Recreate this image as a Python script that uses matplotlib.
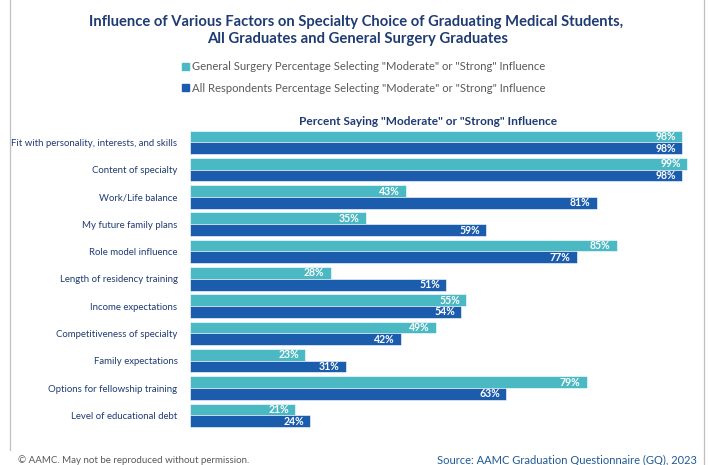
import matplotlib
matplotlib.use("Agg")
import matplotlib.pyplot as plt
from matplotlib.lines import Line2D
import numpy as np

plt.rcParams['font.family'] = ['Lato', 'DejaVu Sans']

categories = [
    "Fit with personality, interests, and skills",
    "Content of specialty",
    "Work/Life balance",
    "My future family plans",
    "Role model influence",
    "Length of residency training",
    "Income expectations",
    "Competitiveness of specialty",
    "Family expectations",
    "Options for fellowship training",
    "Level of educational debt",
]
general_surgery = [98, 99, 43, 35, 85, 28, 55, 49, 23, 79, 21]
all_respondents = [98, 98, 81, 59, 77, 51, 54, 42, 31, 63, 24]

series_names = [
    'General Surgery Percentage Selecting "Moderate" or "Strong" Influence',
    'All Respondents Percentage Selecting "Moderate" or "Strong" Influence',
]
title_lines = [
    "Influence of Various Factors on Specialty Choice of Graduating Medical Students,",
    "All Graduates and General Surgery Graduates",
]
axis_title = 'Percent Saying "Moderate" or "Strong" Influence'
footer_left = "\u00a9 AAMC. May not be reproduced without permission."
footer_right = "Source: AAMC Graduation Questionnaire (GQ), 2023"

TEAL = "#4BB9C4"
BLUE = "#1B5DAC"
NAVY = "#1F3B73"
GRAY = "#595959"

W, H = 709, 465
fig = plt.figure(figsize=(W / 100, H / 100), dpi=100)

def fx(px):
    return px / W

def fy(py):
    return 1 - py / H

ax_left, ax_right = 190, 692
ax_top, ax_bottom = 128.6, 429.0
ax = fig.add_axes([fx(ax_left), fy(ax_bottom), fx(ax_right) - fx(ax_left), (ax_bottom - ax_top) / H])

y = np.arange(len(categories))
h = 0.43
b1 = ax.barh(y - h / 2, general_surgery, height=h, color=TEAL, edgecolor="white", linewidth=0.4)
b2 = ax.barh(y + h / 2, all_respondents, height=h, color=BLUE, edgecolor="white", linewidth=0.4)

for bars, vals in ((b1, general_surgery), (b2, all_respondents)):
    for bar, v in zip(bars, vals):
        ax.text(bar.get_width() - 1.2, bar.get_y() + bar.get_height() / 2, f"{v}%",
                ha="right", va="center", color="white", fontsize=7.6, fontweight="bold")

ax.set_xlim(0, 100)
ax.set_ylim(len(categories) - 0.5, -0.5)
ax.set_yticks(y)
ax.set_yticklabels(categories, fontsize=6.9, color=NAVY)
ax.tick_params(axis="y", length=0, pad=9)
ax.set_xticks([])
for s in ax.spines.values():
    s.set_visible(False)

# Titles
fig.text(fx(356), fy(22), title_lines[0], ha="center", va="center", fontsize=10.6,
         fontweight="bold", color=NAVY)
fig.text(fx(358), fy(39), title_lines[1], ha="center", va="center", fontsize=10.7,
         fontweight="bold", color=NAVY)

# Legend
for i, (name, col) in enumerate(zip(series_names, [TEAL, BLUE])):
    yy = 67 + i * 21
    fig.patches.append(plt.Rectangle((fx(182), fy(yy + 3.5)), 7 / W, 7 / H,
                                     transform=fig.transFigure, color=col))
    fig.text(fx(192), fy(yy), name, ha="left", va="center", fontsize=8.1, color=GRAY)

fig.text(fx(428), fy(121), axis_title, ha="center", va="center", fontsize=8.6,
         fontweight="bold", color=NAVY)

# Footer
fig.text(fx(18), fy(460), footer_left, ha="left", va="center", fontsize=7.0, color=GRAY)
fig.text(fx(697), fy(460), footer_right, ha="right", va="center", fontsize=8.0, color="#1F5A96")

# Frame lines
fig.add_artist(Line2D([fx(10), fx(10)], [fy(0), fy(450)], transform=fig.transFigure,
                      color="#BFBFBF", linewidth=0.9))
fig.add_artist(Line2D([fx(704), fx(704)], [fy(0), fy(465)], transform=fig.transFigure,
                      color="#BFBFBF", linewidth=0.9))

fig.savefig("out.png", dpi=100)
